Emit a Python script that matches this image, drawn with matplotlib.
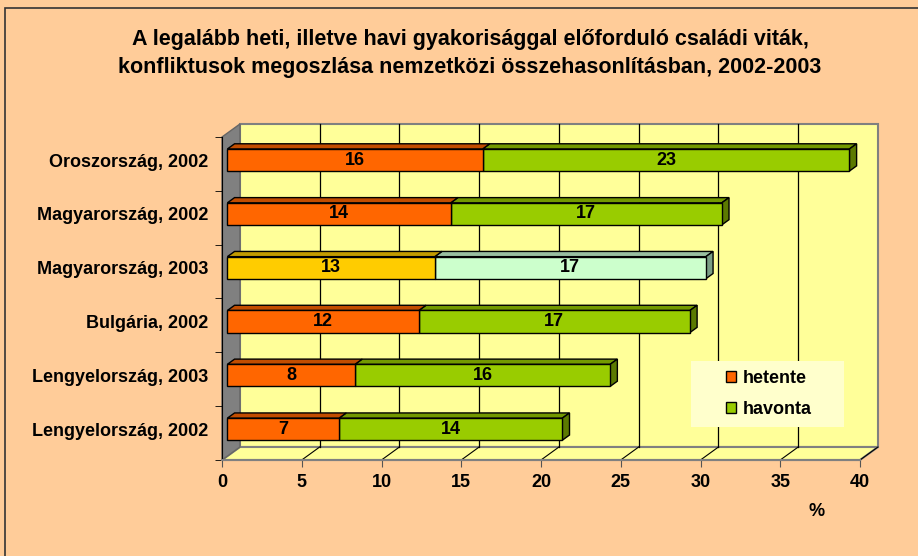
import matplotlib
matplotlib.use('Agg')
import matplotlib.pyplot as plt
from matplotlib.patches import Polygon, Rectangle, Patch
import numpy as np

plt.rcParams['font.family'] = ['Liberation Sans', 'DejaVu Sans']
plt.rcParams['font.weight'] = 'bold'

# data (bottom row first)
countries = ['Lengyelország, 2002', 'Lengyelország, 2003', 'Bulgária, 2002',
             'Magyarország, 2003', 'Magyarország, 2002', 'Oroszország, 2002']
hetente = [7, 8, 12, 13, 14, 16]
havonta = [14, 16, 17, 17, 17, 23]
series_names = ['hetente', 'havonta']
xticks = [0, 5, 10, 15, 20, 25, 30, 35, 40]

title1 = 'A legalább heti, illetve havi gyakorisággal előforduló családi viták,'
title2 = 'konfliktusok megoszlása nemzetközi összehasonlításban, 2002-2003'

# colours: (front, top, side)
c_het = ('#FF6600', '#C24D00', '#993D00')
c_hav = ('#99CC00', '#739900', '#5C7A00')
c_het_hu03 = ('#FFCC00', '#C29B00', '#997A00')
c_hav_hu03 = ('#CCFFCC', '#99BFA0', '#7A9E85')
bg = '#FFCC99'
wall = '#FFFF99'
fs = 13

W, H = 918, 556
fig = plt.figure(figsize=(W / 100, H / 100), dpi=100, facecolor=bg)
# outer chart border
fig.patches.append(Rectangle((5 / W, -0.1), 1.2, 1 - 8 / H + 0.1, transform=fig.transFigure,
                             fill=False, edgecolor='#333333', lw=1.2))

ax = fig.add_axes([222 / W, (H - 460) / H, 638 / W, 323 / H])
ax.set_facecolor('none')
ax.set_xlim(0, 40)
ax.set_ylim(-0.5, 5.5)

DX = 18 / 16.0           # depth offset in x (data units)
DY = 13 / (323 / 6.0)     # depth offset in y (data units)
f1, f2 = 0.3, 0.7        # bar front/back positions in depth
bh = 0.41
y0, y1 = -0.5, 5.5

# back wall
ax.add_patch(Polygon([(DX, y0 + DY), (40 + DX, y0 + DY), (40 + DX, y1 + DY), (DX, y1 + DY)],
                     closed=True, facecolor=wall, edgecolor='#808080', lw=1.5, clip_on=False, zorder=0))
# floor
ax.add_patch(Polygon([(0, y0), (40, y0), (40 + DX, y0 + DY), (DX, y0 + DY)],
                     closed=True, facecolor=wall, edgecolor='#808080', lw=1.5, clip_on=False, zorder=0.5))
# left wall
ax.add_patch(Polygon([(0, y0), (DX, y0 + DY), (DX, y1 + DY), (0, y1)],
                     closed=True, facecolor='#808080', edgecolor='#666666', lw=1, clip_on=False, zorder=0.6))
# gridlines on back wall and floor
for t in xticks[1:-1]:
    ax.plot([t + DX, t + DX], [y0 + DY, y1 + DY], color='black', lw=0.9, zorder=0.7, clip_on=False)
for t in xticks[1:]:
    ax.plot([t, t + DX], [y0, y0 + DY], color='black', lw=0.8, zorder=0.7, clip_on=False)


def box(x, w, yc, cols, side=False):
    ox, oy = f1 * DX, f1 * DY
    bx, by = f2 * DX, f2 * DY
    xa, xb = x + ox, x + w + ox
    ya, yb = yc - bh / 2 + oy, yc + bh / 2 + oy
    ax.add_patch(Polygon([(xa, yb), (xb, yb), (x + w + bx, yb + by - oy), (x + bx, yb + by - oy)],
                         closed=True, facecolor=cols[1], edgecolor='black', lw=1, zorder=2, clip_on=False))
    if side:
        ax.add_patch(Polygon([(xb, ya), (x + w + bx, ya + by - oy), (x + w + bx, yb + by - oy), (xb, yb)],
                             closed=True, facecolor=cols[2], edgecolor='black', lw=1, zorder=2, clip_on=False))
    ax.barh(yc + oy, w, left=x + ox, height=bh, color=cols[0], edgecolor='black', lw=1, zorder=3)
    ax.text(xa + w / 2, yc + oy, str(w), ha='center', va='center', fontsize=fs,
            fontweight='bold', zorder=4)


ypos = np.arange(len(countries))
for i in ypos:
    hu03 = countries[i] == 'Magyarország, 2003'
    ch = c_het_hu03 if hu03 else c_het
    cv = c_hav_hu03 if hu03 else c_hav
    box(hetente[i], havonta[i], i, cv, side=True)
    box(0, hetente[i], i, ch)

# axes styling
for s in ['top', 'right']:
    ax.spines[s].set_visible(False)
ax.spines['left'].set_color('black')
ax.spines['bottom'].set_color('#808080')
ax.spines['bottom'].set_linewidth(1.5)
ax.spines['left'].set_zorder(1)
ax.set_xticks(xticks)
ax.set_xticklabels([str(t) for t in xticks], fontsize=fs, fontweight='bold')
ax.tick_params(axis='x', length=5, color='#555555', pad=5)
ax.set_yticks(ypos + f1 * DY)
ax.set_yticklabels(countries, fontsize=fs, fontweight='bold')
ax.tick_params(axis='y', length=0, pad=10)
ax.set_yticks(np.arange(-0.5, 6.0, 1.0), minor=True)
ax.tick_params(axis='y', which='minor', length=5, color='black')
ax.text(37.25, -1.3, '%', ha='center', va='top', fontsize=fs, fontweight='bold')

# legend
ax.add_patch(Rectangle((0.735, 0.102), 0.24, 0.205, transform=ax.transAxes,
                       facecolor='#FFFFCC', edgecolor='none', zorder=5))
handles = [Patch(facecolor=c_het[0], edgecolor='black'), Patch(facecolor=c_hav[0], edgecolor='black')]
leg = ax.legend(handles, series_names, loc='center left', bbox_to_anchor=(0.79, 0.205),
                frameon=False, handlelength=0.55, handleheight=0.55, borderpad=0, borderaxespad=0,
                handletextpad=0.4, labelspacing=0.8, prop={'weight': 'bold', 'size': fs})
leg.set_zorder(6)

fig.text(470 / W, 1 - 40 / H, title1, ha='center', va='center', fontsize=15.5, fontweight='bold')
fig.text(470 / W, 1 - 67 / H, title2, ha='center', va='center', fontsize=15.5, fontweight='bold')

fig.savefig('out.png', dpi=100, facecolor=bg)
